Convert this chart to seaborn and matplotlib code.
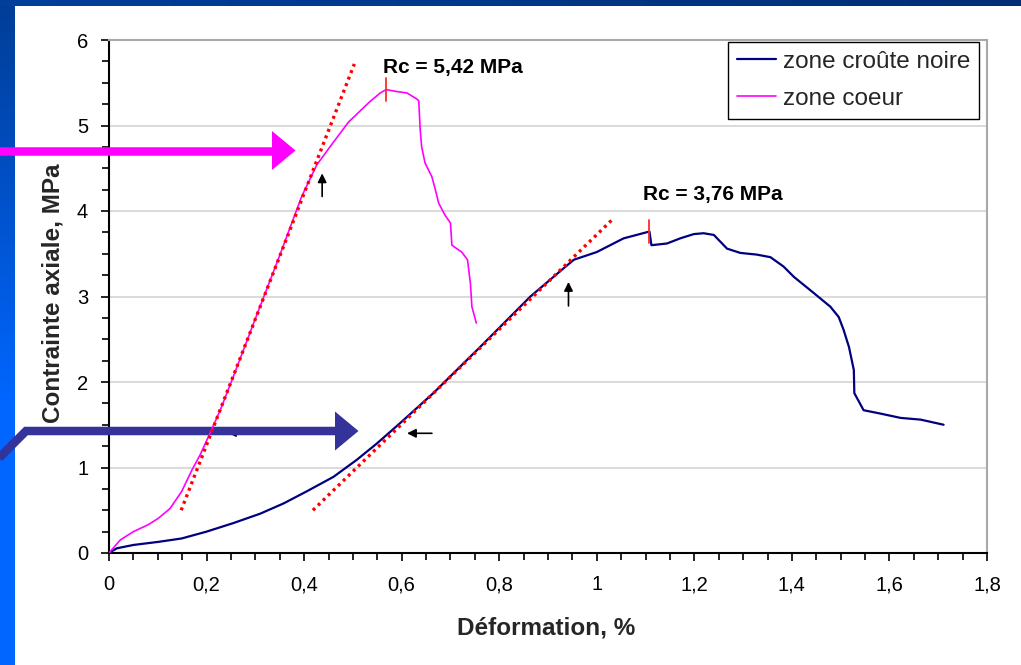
import numpy as np
import matplotlib
matplotlib.use("Agg")
import matplotlib.pyplot as plt
from matplotlib.patches import Polygon
from matplotlib.lines import Line2D
from matplotlib.transforms import Affine2D
from matplotlib.ticker import MultipleLocator, FixedLocator, FixedFormatter
import seaborn as sns

# ---- data -------------------------------------------------------------
# zone coeur (core zone): strain (%) / axial stress (MPa)
coeur_x = [0, 0.012, 0.023, 0.05, 0.08, 0.101, 0.125, 0.149, 0.17, 0.187,
           0.207, 0.228, 0.252, 0.30, 0.35, 0.395, 0.426, 0.453, 0.491,
           0.535, 0.556, 0.568, 0.587, 0.611, 0.631, 0.635, 0.638, 0.641,
           0.648, 0.662, 0.669, 0.676, 0.689, 0.70, 0.703, 0.723, 0.735,
           0.741, 0.744, 0.753]
coeur_y = [0, 0.08, 0.152, 0.25, 0.33, 0.405, 0.52, 0.72, 0.97, 1.15,
           1.40, 1.67, 2.02, 2.74, 3.48, 4.17, 4.54, 4.75, 5.04,
           5.28, 5.38, 5.42, 5.40, 5.38, 5.31, 5.29, 4.95, 4.75,
           4.56, 4.40, 4.25, 4.09, 3.95, 3.86, 3.60, 3.52, 3.43,
           3.15, 2.88, 2.69]

# zone croûte noire (black crust zone)
crust_x = [0, 0.016, 0.05, 0.101, 0.149, 0.2, 0.255, 0.31, 0.358, 0.405,
           0.46, 0.508, 0.549, 0.597, 0.665, 0.761, 0.864, 0.932, 0.953,
           1.0, 1.055, 1.108, 1.112, 1.144, 1.171, 1.199, 1.219, 1.24,
           1.267, 1.294, 1.328, 1.356, 1.383, 1.404, 1.445, 1.479, 1.496,
           1.506, 1.517, 1.527, 1.528, 1.547, 1.582, 1.623, 1.664, 1.711]
crust_y = [0, 0.055, 0.094, 0.13, 0.17, 0.25, 0.35, 0.46, 0.58, 0.72,
           0.89, 1.09, 1.28, 1.52, 1.87, 2.41, 3.0, 3.33, 3.43,
           3.52, 3.68, 3.76, 3.60, 3.62, 3.68, 3.73, 3.74, 3.72,
           3.56, 3.51, 3.49, 3.46, 3.35, 3.23, 3.04, 2.88, 2.76,
           2.61, 2.41, 2.14, 1.87, 1.67, 1.63, 1.58, 1.56, 1.50]

series_labels = ["zone croûte noire", "zone coeur"]

# strengths (peak stress) and where they occur
rc_values = [3.76, 5.42]
rc_strain = [1.108, 0.568]
rc_texts = ["Rc = 3,76 MPa", "Rc = 5,42 MPa"]
rc_text_pos = [(1.095, 4.19), (0.562, 5.68)]

# linear (elastic) fits, endpoints
fit_coeur = ([0.148, 0.503], [0.50, 5.72])
fit_crust = ([0.418, 1.03], [0.50, 3.89])

# small pointers marking the linear range
up_pointers = [((0.437, 4.17), (0.437, 4.44)), ((0.942, 2.89), (0.942, 3.17))]
left_pointers = [((0.662, 1.40), (0.611, 1.40)), ((0.30, 1.41), (0.242, 1.41))]

x_ticks = [0, 0.2, 0.4, 0.6, 0.8, 1.0, 1.2, 1.4, 1.6, 1.8]
x_tick_labels = ["0", "0,2", "0,4", "0,6", "0,8", "1", "1,2", "1,4", "1,6", "1,8"]
y_ticks = [0, 1, 2, 3, 4, 5, 6]
y_tick_labels = ["0", "1", "2", "3", "4", "5", "6"]

# ---- style ------------------------------------------------------------
sns.set_style("white")
plt.rcParams["font.family"] = ["Liberation Sans", "DejaVu Sans"]

W, H, DPI = 1021, 665, 100
fig = plt.figure(figsize=(W / DPI, H / DPI), dpi=DPI)
fig.patch.set_facecolor("white")

# slide decoration: gradient bars on the left and top edges
def hex_rgb(h):
    h = h.lstrip("#")
    return np.array([int(h[i:i + 2], 16) / 255 for i in (0, 2, 4)])

top_c, bot_c = hex_rgb("#003d96"), hex_rgb("#0066ff")
t = np.clip(np.arange(H) / 400.0, 0, 1)[:, None]
col = top_c[None, :] * (1 - t) + bot_c[None, :] * t
strip = np.repeat(col[:, None, :], 15, axis=1)
fig.figimage(strip, xo=0, yo=0, origin="upper", zorder=-2)

lc, rc = hex_rgb("#00409c"), hex_rgb("#002e76")
s = (np.arange(W) / (W - 1))[:, None]
row = lc[None, :] * (1 - s) + rc[None, :] * s
band = np.repeat(row[None, :, :], 6, axis=0)
fig.figimage(band, xo=0, yo=H - 6, origin="upper", zorder=-1)

# plot area
ax = fig.add_axes([109 / W, (H - 553) / H, (987 - 109) / W, (553 - 40) / H])
ax.set_facecolor("white")

sns.lineplot(x=crust_x, y=crust_y, sort=False, estimator=None, ax=ax,
             color="#000080", lw=1.6, label=series_labels[0], zorder=4)
sns.lineplot(x=coeur_x, y=coeur_y, sort=False, estimator=None, ax=ax,
             color="#ff00ff", lw=1.2, label=series_labels[1], zorder=4)

for fx, fy in (fit_coeur, fit_crust):
    ax.plot(fx, fy, color="#ff0000", lw=2.4, linestyle=(0, (0.9, 1.2)),
            zorder=5)

for xs, ys in zip(rc_strain, rc_values):
    ax.plot([xs, xs], [ys - 0.13, ys + 0.13], color="#ff2a2a", lw=1.3, zorder=6)

for txt, (tx, ty) in zip(rc_texts, rc_text_pos):
    ax.text(tx, ty, txt, fontsize=15, fontweight="bold", ha="left",
            va="center", color="black", zorder=6)

for tail, tip in up_pointers + left_pointers:
    ax.annotate("", xy=tip, xytext=tail,
                arrowprops=dict(arrowstyle="-|>", color="black", lw=1.2,
                                mutation_scale=13, shrinkA=0, shrinkB=0),
                zorder=2)

# big highlight arrows (figure pixel coordinates, top-left origin)
px = Affine2D().scale(1 / DPI, -1 / DPI).translate(0, H / DPI) + fig.dpi_scale_trans
lw_px = 8.5 * 72 / DPI
for pts, head, c in (
    ([(-10, 150.5), (273, 150.5)], [(272, 131), (295.5, 150.5), (272, 170)], "#ff00ff"),
    ([(-12, 469), (26, 431), (336, 431)], [(335, 411.5), (358.5, 431), (335, 450.5)], "#333399"),
):
    xs, ys = zip(*pts)
    ln = Line2D(xs, ys, lw=lw_px, color=c, transform=px, clip_on=False,
                solid_joinstyle="miter", solid_capstyle="butt", zorder=3)
    ax.add_line(ln)
    ax.add_patch(Polygon(head, closed=True, facecolor=c, edgecolor="none",
                         transform=px, clip_on=False, zorder=3))

# axes, ticks and grid
ax.set_xlim(0, 1.8)
ax.set_ylim(0, 6)
ax.xaxis.set_major_locator(FixedLocator(x_ticks))
ax.xaxis.set_major_formatter(FixedFormatter(x_tick_labels))
ax.yaxis.set_major_locator(FixedLocator(y_ticks))
ax.yaxis.set_major_formatter(FixedFormatter(y_tick_labels))
ax.xaxis.set_minor_locator(MultipleLocator(0.05))
ax.yaxis.set_minor_locator(MultipleLocator(0.25))
ax.tick_params(axis="both", which="major", direction="out", length=6,
               width=1.2, color="black", labelsize=14.5, labelcolor="black")
ax.tick_params(axis="both", which="minor", direction="out", length=5,
               width=1.2, color="black")
ax.tick_params(axis="x", which="major", pad=10)
ax.tick_params(axis="y", which="major", pad=9)
ax.tick_params(bottom=True, left=True, which="both")

ax.yaxis.grid(True, which="major", color="#d4d4d4", lw=1.2)
ax.xaxis.grid(False)
ax.set_axisbelow(True)

for side in ("left", "bottom"):
    ax.spines[side].set_color("black")
    ax.spines[side].set_linewidth(1.5)
for side in ("top", "right"):
    ax.spines[side].set_color("#a8a8a8")
    ax.spines[side].set_linewidth(1.5)

ax.set_xlabel("Déformation, %", fontsize=17.5, fontweight="bold")
ax.set_ylabel("Contrainte axiale, MPa", fontsize=17.5, fontweight="bold")
ax.xaxis.label.set_va("center")
ax.yaxis.label.set_va("center")
ax.xaxis.set_label_coords((546 - 109) / 878, -(628 - 553) / 513)
ax.yaxis.set_label_coords(-(109 - 53) / 878, (553 - 293) / 513)

leg = ax.legend(loc="upper right", bbox_to_anchor=((979 - 109) / 878, (553 - 42) / 513),
                fontsize=17.5, frameon=True, fancybox=False, framealpha=1,
                edgecolor="black", handlelength=1.6, handletextpad=0.3,
                labelspacing=0.62, borderpad=0.36, borderaxespad=0)
leg.get_frame().set_linewidth(1.0)
leg.set_zorder(7)

fig.savefig("out.png", dpi=DPI, facecolor="white")
